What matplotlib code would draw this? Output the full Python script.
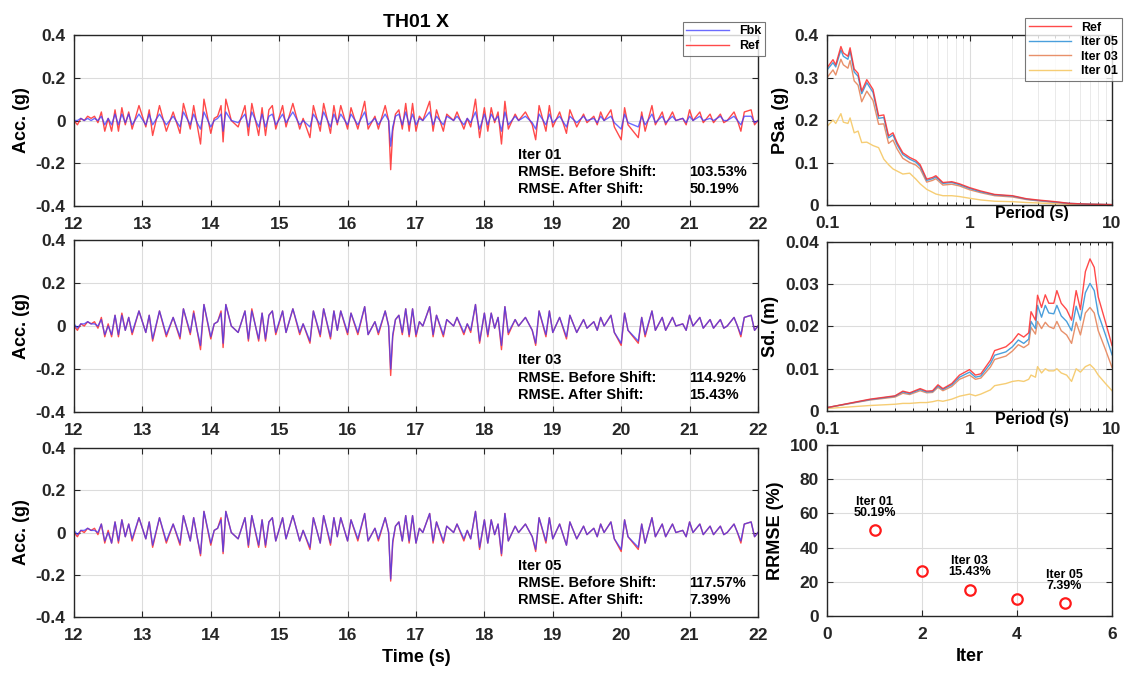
import numpy as np
import matplotlib
matplotlib.use("Agg")
import matplotlib.pyplot as plt

plt.rcParams['font.family'] = ['Liberation Sans', 'DejaVu Sans']
plt.rcParams['font.weight'] = 'bold'
plt.rcParams['axes.labelweight'] = 'bold'

# ---- time histories ----
t = [12.00, 12.05, 12.10, 12.15, 12.20, 12.25, 12.30, 12.35, 12.40, 12.45,
     12.50, 12.55, 12.60, 12.65, 12.70, 12.75, 12.80, 12.85, 12.95, 13.05,
     13.10, 13.15, 13.25, 13.35, 13.45, 13.55, 13.60, 13.70, 13.75, 13.80,
     13.85, 13.90, 14.00, 14.05, 14.10, 14.15, 14.18, 14.22, 14.30, 14.40,
     14.45, 14.50, 14.55, 14.60, 14.70, 14.75, 14.80, 14.85, 14.90, 14.95,
     15.05, 15.10, 15.20, 15.30, 15.35, 15.45, 15.50, 15.60, 15.65, 15.75,
     15.80, 15.85, 15.90, 16.00, 16.05, 16.15, 16.25, 16.30, 16.40, 16.45,
     16.55, 16.60, 16.63, 16.66, 16.70, 16.75, 16.80, 16.85, 16.90, 16.95,
     17.00, 17.05, 17.10, 17.20, 17.25, 17.30, 17.40, 17.45, 17.55, 17.60,
     17.70, 17.75, 17.80, 17.87, 17.93, 18.00, 18.05, 18.10, 18.15, 18.20,
     18.25, 18.30, 18.35, 18.45, 18.50, 18.60, 18.70, 18.75, 18.80, 18.90,
     18.95, 19.00, 19.10, 19.20, 19.25, 19.35, 19.45, 19.50, 19.60, 19.65,
     19.70, 19.75, 19.85, 19.90, 20.00, 20.05, 20.10, 20.25, 20.30, 20.35,
     20.45, 20.50, 20.60, 20.65, 20.75, 20.80, 20.90, 20.95, 21.00, 21.05,
     21.15, 21.20, 21.30, 21.35, 21.45, 21.50, 21.55, 21.65, 21.70, 21.75,
     21.80, 21.90, 21.95, 22.00]

ref = [0.00, -0.02, 0.01, 0.00, 0.02, 0.01, 0.02, -0.01, 0.04, -0.05,
       0.01, -0.05, 0.05, -0.05, 0.06, -0.02, 0.04, -0.04, 0.07, -0.03,
       0.05, -0.07, 0.07, -0.05, 0.04, -0.06, 0.08, -0.04, 0.07, -0.02,
       -0.11, 0.10, -0.06, 0.01, 0.02, 0.07, -0.10, 0.10, 0.00, -0.03,
       0.02, 0.07, -0.07, 0.08, -0.07, 0.06, -0.07, 0.05, 0.07, -0.04,
       0.07, -0.03, 0.08, -0.04, 0.01, -0.08, 0.07, -0.05, 0.08, -0.06,
       0.07, -0.02, 0.07, -0.04, 0.06, -0.04, 0.09, -0.04, 0.02, -0.04,
       0.07, 0.00, -0.23, -0.05, 0.03, 0.05, -0.04, 0.08, -0.05, 0.08,
       -0.05, 0.02, 0.00, 0.09, -0.05, 0.05, -0.05, 0.03, 0.00, 0.04,
       -0.04, 0.01, -0.03, 0.10, -0.08, 0.06, -0.05, 0.06, -0.01, 0.04,
       -0.11, 0.09, -0.04, 0.03, 0.00, 0.04, -0.02, -0.09, 0.07, -0.05,
       0.07, -0.03, 0.04, -0.06, 0.05, -0.03, 0.03, -0.01, 0.02, -0.02,
       0.04, 0.00, 0.05, -0.03, -0.09, 0.06, -0.02, -0.08, 0.04, -0.05,
       0.07, -0.02, 0.04, -0.02, 0.04, 0.00, 0.01, -0.02, 0.05, 0.00,
       0.04, -0.01, 0.03, -0.01, 0.03, -0.01, 0.00, 0.04, 0.00, -0.05,
       0.04, 0.05, -0.02, 0.00]

fbk_01 = [0.00, 0.00, 0.01, 0.00, 0.01, 0.00, 0.01, 0.00, 0.02, -0.02,
          0.01, -0.02, 0.03, -0.02, 0.03, -0.01, 0.03, -0.02, 0.03, -0.02,
          0.03, -0.02, 0.03, -0.02, 0.02, -0.03, 0.04, -0.02, 0.03, -0.01,
          -0.04, 0.04, -0.03, 0.00, 0.01, 0.03, -0.05, 0.04, 0.00, -0.01,
          0.01, 0.03, -0.03, 0.04, -0.03, 0.03, -0.03, 0.02, 0.03, -0.02,
          0.03, -0.01, 0.04, -0.02, 0.00, -0.03, 0.03, -0.02, 0.04, -0.03,
          0.03, -0.01, 0.03, -0.02, 0.03, -0.02, 0.04, -0.02, 0.01, -0.02,
          0.03, 0.00, -0.12, -0.03, 0.02, 0.03, -0.02, 0.04, -0.02, 0.03,
          -0.02, 0.01, 0.00, 0.04, -0.02, 0.02, -0.02, 0.02, 0.00, 0.02,
          -0.02, 0.01, -0.01, 0.04, -0.04, 0.03, -0.02, 0.03, 0.00, 0.02,
          -0.05, 0.04, -0.02, 0.02, 0.00, 0.02, -0.01, -0.04, 0.03, -0.02,
          0.03, -0.01, 0.02, -0.03, 0.02, -0.01, 0.02, 0.00, 0.01, -0.01,
          0.02, 0.00, 0.02, -0.01, -0.04, 0.03, -0.01, -0.03, 0.02, -0.02,
          0.03, -0.01, 0.02, -0.01, 0.02, 0.00, 0.01, -0.01, 0.02, 0.00,
          0.02, 0.00, 0.01, 0.00, 0.02, 0.00, 0.00, 0.02, 0.00, -0.02,
          0.02, 0.02, -0.01, 0.00]

fbk_03 = [0.01, -0.01, 0.01, 0.01, 0.02, 0.01, 0.01, 0.00, 0.03, -0.04,
          0.00, -0.04, 0.05, -0.04, 0.05, -0.02, 0.04, -0.03, 0.07, -0.03,
          0.05, -0.06, 0.07, -0.04, 0.04, -0.05, 0.08, -0.03, 0.06, -0.02,
          -0.09, 0.10, -0.05, 0.01, 0.02, 0.06, -0.08, 0.10, 0.00, -0.03,
          0.02, 0.07, -0.06, 0.07, -0.06, 0.06, -0.06, 0.05, 0.07, -0.03,
          0.07, -0.03, 0.08, -0.03, 0.01, -0.07, 0.07, -0.04, 0.08, -0.05,
          0.07, -0.02, 0.07, -0.03, 0.06, -0.03, 0.09, -0.04, 0.02, -0.03,
          0.07, 0.00, -0.20, -0.04, 0.03, 0.05, -0.03, 0.08, -0.04, 0.08,
          -0.04, 0.02, 0.00, 0.09, -0.04, 0.05, -0.04, 0.03, 0.00, 0.04,
          -0.03, 0.01, -0.02, 0.10, -0.07, 0.06, -0.04, 0.06, -0.01, 0.04,
          -0.09, 0.09, -0.03, 0.03, 0.00, 0.04, -0.02, -0.08, 0.07, -0.04,
          0.07, -0.03, 0.04, -0.05, 0.05, -0.03, 0.03, -0.01, 0.02, -0.02,
          0.04, 0.00, 0.05, -0.03, -0.08, 0.06, -0.02, -0.07, 0.04, -0.04,
          0.07, -0.02, 0.04, -0.02, 0.04, 0.00, 0.01, -0.02, 0.05, 0.00,
          0.04, -0.01, 0.03, -0.01, 0.03, -0.01, 0.00, 0.04, 0.00, -0.04,
          0.04, 0.05, -0.02, 0.00]

fbk_05 = [0.01, -0.01, 0.01, 0.01, 0.02, 0.01, 0.01, 0.00, 0.04, -0.04,
          0.00, -0.05, 0.05, -0.04, 0.06, -0.02, 0.04, -0.03, 0.07, -0.03,
          0.05, -0.06, 0.07, -0.04, 0.04, -0.05, 0.08, -0.04, 0.07, -0.02,
          -0.10, 0.10, -0.05, 0.01, 0.02, 0.06, -0.09, 0.10, 0.00, -0.03,
          0.02, 0.07, -0.06, 0.08, -0.06, 0.06, -0.06, 0.05, 0.07, -0.04,
          0.07, -0.03, 0.08, -0.04, 0.01, -0.07, 0.07, -0.05, 0.08, -0.05,
          0.07, -0.02, 0.07, -0.04, 0.06, -0.03, 0.09, -0.04, 0.02, -0.03,
          0.07, 0.00, -0.22, -0.04, 0.03, 0.05, -0.04, 0.08, -0.04, 0.08,
          -0.05, 0.02, 0.00, 0.09, -0.04, 0.05, -0.04, 0.03, 0.00, 0.04,
          -0.03, 0.01, -0.03, 0.10, -0.07, 0.06, -0.05, 0.06, -0.01, 0.04,
          -0.10, 0.09, -0.04, 0.03, 0.00, 0.04, -0.02, -0.08, 0.07, -0.04,
          0.07, -0.03, 0.04, -0.06, 0.05, -0.03, 0.03, -0.01, 0.02, -0.02,
          0.04, 0.00, 0.05, -0.03, -0.08, 0.06, -0.02, -0.07, 0.04, -0.05,
          0.07, -0.02, 0.04, -0.02, 0.04, 0.00, 0.01, -0.02, 0.05, 0.00,
          0.04, -0.01, 0.03, -0.01, 0.03, -0.01, 0.00, 0.04, 0.00, -0.04,
          0.04, 0.05, -0.02, 0.00]

iter_names = ["Iter 01", "Iter 03", "Iter 05"]
rmse_before = ["103.53%", "114.92%", "117.57%"]
rmse_after = ["50.19%", "15.43%", "7.39%"]

# ---- response spectra ----
T_psa = [0.10, 0.11, 0.115, 0.125, 0.13, 0.14, 0.145, 0.155, 0.165, 0.175,
         0.19, 0.21, 0.23, 0.25, 0.27, 0.29, 0.31, 0.34, 0.38, 0.42,
         0.45, 0.50, 0.55, 0.58, 0.65, 0.75, 0.85, 1.0, 1.2, 1.5,
         2.0, 2.5, 3.0, 4.0, 5.0, 7.0, 10.0]
psa_ref = [0.323, 0.342, 0.330, 0.373, 0.358, 0.350, 0.370, 0.320, 0.310, 0.268,
           0.295, 0.272, 0.210, 0.212, 0.163, 0.170, 0.147, 0.123, 0.112, 0.105,
           0.095, 0.061, 0.065, 0.069, 0.053, 0.055, 0.050, 0.041, 0.033, 0.025,
           0.022, 0.015, 0.012, 0.008, 0.004, 0.002, 0.001]
psa_05 = [0.318, 0.335, 0.325, 0.365, 0.350, 0.343, 0.362, 0.313, 0.303, 0.262,
          0.288, 0.265, 0.204, 0.206, 0.158, 0.165, 0.142, 0.119, 0.108, 0.101,
          0.091, 0.058, 0.062, 0.066, 0.051, 0.053, 0.048, 0.039, 0.031, 0.024,
          0.021, 0.014, 0.011, 0.007, 0.004, 0.002, 0.001]
psa_03 = [0.300, 0.318, 0.306, 0.343, 0.330, 0.322, 0.340, 0.292, 0.282, 0.243,
          0.268, 0.246, 0.190, 0.191, 0.145, 0.153, 0.132, 0.110, 0.100, 0.094,
          0.085, 0.054, 0.058, 0.062, 0.047, 0.049, 0.045, 0.036, 0.029, 0.022,
          0.019, 0.013, 0.010, 0.006, 0.003, 0.002, 0.001]
psa_01 = [0.185, 0.200, 0.192, 0.215, 0.195, 0.192, 0.205, 0.170, 0.174, 0.147,
          0.148, 0.140, 0.135, 0.108, 0.095, 0.085, 0.080, 0.073, 0.075, 0.061,
          0.050, 0.037, 0.030, 0.026, 0.022, 0.022, 0.020, 0.016, 0.012, 0.009,
          0.008, 0.006, 0.005, 0.003, 0.002, 0.001, 0.0005]

T_sd = [0.10, 0.20, 0.30, 0.34, 0.38, 0.45, 0.50, 0.55, 0.60, 0.65,
        0.75, 0.85, 1.0, 1.1, 1.2, 1.4, 1.5, 1.8, 2.0, 2.2,
        2.4, 2.6, 2.7, 2.9, 3.0, 3.2, 3.4, 3.6, 3.9, 4.1,
        4.4, 4.8, 5.2, 5.6, 6.0, 6.5, 7.0, 7.5, 8.0, 9.0, 10.0]
sd_ref = [0.0008, 0.0028, 0.0036, 0.0047, 0.0043, 0.0053, 0.0047, 0.0048, 0.0062, 0.0053,
          0.0065, 0.0085, 0.0098, 0.0085, 0.0088, 0.0120, 0.0143, 0.0152, 0.0165, 0.0183,
          0.0175, 0.0185, 0.0235, 0.0215, 0.0274, 0.0245, 0.0275, 0.0255, 0.0255, 0.0285,
          0.0255, 0.0240, 0.0215, 0.0285, 0.0240, 0.0330, 0.0360, 0.0340, 0.0270, 0.0210, 0.0155]
sd_05 = [0.0008, 0.0027, 0.0035, 0.0045, 0.0041, 0.0051, 0.0045, 0.0046, 0.0059, 0.0051,
         0.0062, 0.0080, 0.0092, 0.0080, 0.0083, 0.0112, 0.0132, 0.0140, 0.0152, 0.0168,
         0.0160, 0.0170, 0.0212, 0.0195, 0.0250, 0.0222, 0.0250, 0.0232, 0.0230, 0.0250,
         0.0225, 0.0212, 0.0190, 0.0248, 0.0215, 0.0280, 0.0302, 0.0285, 0.0230, 0.0180, 0.0133]
sd_03 = [0.0008, 0.0026, 0.0033, 0.0042, 0.0039, 0.0048, 0.0043, 0.0044, 0.0056, 0.0048,
         0.0058, 0.0075, 0.0085, 0.0075, 0.0078, 0.0104, 0.0122, 0.0130, 0.0142, 0.0157,
         0.0150, 0.0158, 0.0198, 0.0182, 0.0212, 0.0195, 0.0210, 0.0200, 0.0195, 0.0212,
         0.0190, 0.0180, 0.0160, 0.0210, 0.0180, 0.0232, 0.0245, 0.0232, 0.0190, 0.0145, 0.0103]
sd_01 = [0.0006, 0.0013, 0.0016, 0.0018, 0.0018, 0.0020, 0.0020, 0.0022, 0.0025, 0.0023,
         0.0028, 0.0035, 0.0040, 0.0036, 0.0040, 0.0050, 0.0060, 0.0065, 0.0070, 0.0072,
         0.0070, 0.0075, 0.0085, 0.0080, 0.0105, 0.0090, 0.0100, 0.0095, 0.0095, 0.0100,
         0.0090, 0.0085, 0.0070, 0.0100, 0.0092, 0.0105, 0.0110, 0.0100, 0.0085, 0.0065, 0.0048]

# ---- RRMSE per iteration ----
iters = [1, 2, 3, 4, 5]
rrmse = [50.19, 26.3, 15.43, 9.7, 7.39]
rrmse_labels = {1: "Iter 01\n50.19%", 3: "Iter 03\n15.43%", 5: "Iter 05\n7.39%"}

c_ref = "#ff2a2a"
c_fbk = "#3a3aff"
c_05 = "#4a9fdc"
c_03 = "#e8906a"
c_01 = "#f6cd74"
spine_c = "#262626"
tick_fs = 12.5


def style(ax):
    for s in ax.spines.values():
        s.set_color(spine_c)
        s.set_linewidth(1.0)
    ax.tick_params(direction="in", top=True, right=True, labelsize=tick_fs,
                   colors=spine_c, width=0.8, length=4)
    ax.tick_params(axis="x", pad=8)
    ax.tick_params(axis="y", pad=6)
    ax.tick_params(which="minor", direction="in", top=True, right=True,
                   length=2, width=0.6)
    ax.grid(True, color="#dcdcdc", linewidth=0.8)
    ax.set_axisbelow(True)
    for lab in ax.get_xticklabels() + ax.get_yticklabels():
        lab.set_fontweight("bold")


def bold_legend(leg):
    leg.get_frame().set_edgecolor("#555555")
    leg.get_frame().set_linewidth(0.8)
    for txt in leg.get_texts():
        txt.set_fontweight("bold")


fig = plt.figure(figsize=(11.33, 6.79), dpi=100)

left_rects = [[0.0653, 0.6966, 0.6037, 0.2518],
              [0.0653, 0.3932, 0.6037, 0.2533],
              [0.0653, 0.0913, 0.6037, 0.2489]]
fbk_list = [fbk_01, fbk_03, fbk_05]

for i, rect in enumerate(left_rects):
    ax = fig.add_axes(rect)
    ax.plot(t, ref, color=c_ref, lw=1.0, alpha=0.85, label="Ref")
    ax.plot(t, fbk_list[i], color=c_fbk, lw=1.0, alpha=0.75, label="Fbk")
    ax.set_xlim(12, 22)
    ax.set_ylim(-0.4, 0.4)
    ax.set_xticks(np.arange(12, 23, 1))
    ax.set_yticks([-0.4, -0.2, 0, 0.2, 0.4])
    ax.set_yticklabels(["-0.4", "-0.2", "0", "0.2", "0.4"])
    ax.set_ylabel("Acc. (g)", fontsize=13, fontweight="bold", labelpad=4)
    style(ax)
    ax.text(0.649, 0.30, iter_names[i], transform=ax.transAxes, fontsize=10.5,
            fontweight="bold", va="center")
    ax.text(0.649, 0.20, "RMSE. Before Shift:", transform=ax.transAxes,
            fontsize=10.5, fontweight="bold", va="center")
    ax.text(0.90, 0.20, rmse_before[i], transform=ax.transAxes, fontsize=10.5,
            fontweight="bold", va="center")
    ax.text(0.649, 0.10, "RMSE. After Shift:", transform=ax.transAxes,
            fontsize=10.5, fontweight="bold", va="center")
    ax.text(0.90, 0.10, rmse_after[i], transform=ax.transAxes, fontsize=10.5,
            fontweight="bold", va="center")
    if i == 0:
        ax.set_title("TH01 X", fontsize=14, fontweight="bold", pad=6)
        h, l = ax.get_legend_handles_labels()
        leg = ax.legend(h[::-1], l[::-1], loc="upper right",
                        bbox_to_anchor=(0.675, 0.968), bbox_transform=fig.transFigure,
                        borderaxespad=0, fontsize=9, frameon=True, fancybox=False,
                        handlelength=3.4, borderpad=0.3, labelspacing=0.2)
        bold_legend(leg)
    if i == 2:
        ax.set_xlabel("Time (s)", fontsize=13, fontweight="bold", labelpad=4)

# PSa
ax1 = fig.add_axes([0.730, 0.698, 0.2515, 0.2504])
ax1.semilogx(T_psa, psa_01, color=c_01, lw=1.0, label="Iter 01")
ax1.semilogx(T_psa, psa_03, color=c_03, lw=1.0, label="Iter 03")
ax1.semilogx(T_psa, psa_05, color=c_05, lw=1.0, label="Iter 05")
ax1.semilogx(T_psa, psa_ref, color=c_ref, lw=1.0, alpha=0.85, label="Ref")
ax1.set_xlim(0.1, 10)
ax1.set_ylim(0, 0.4)
ax1.set_yticks([0, 0.1, 0.2, 0.3, 0.4])
ax1.set_yticklabels(["0", "0.1", "0.2", "0.3", "0.4"])
ax1.set_xticks([0.1, 1, 10])
ax1.set_xticklabels(["0.1", "1", "10"])
ax1.set_ylabel("PSa. (g)", fontsize=13, fontweight="bold", labelpad=4)
style(ax1)
ax1.grid(True, which="minor", axis="x", color="#e6e6e6", linewidth=0.6)
h, l = ax1.get_legend_handles_labels()
leg = ax1.legend(h[::-1], l[::-1], loc="upper right",
                 bbox_to_anchor=(0.990, 0.9735), bbox_transform=fig.transFigure,
                 borderaxespad=0, fontsize=9, frameon=True, fancybox=False,
                 handlelength=3.4, borderpad=0.3, labelspacing=0.2)
bold_legend(leg)

# Sd
ax2 = fig.add_axes([0.730, 0.3947, 0.2515, 0.2489])
ax2.semilogx(T_sd, sd_01, color=c_01, lw=1.0)
ax2.semilogx(T_sd, sd_03, color=c_03, lw=1.0)
ax2.semilogx(T_sd, sd_05, color=c_05, lw=1.0)
ax2.semilogx(T_sd, sd_ref, color=c_ref, lw=1.0, alpha=0.85)
ax2.set_xlim(0.1, 10)
ax2.set_ylim(0, 0.04)
ax2.set_yticks([0, 0.01, 0.02, 0.03, 0.04])
ax2.set_yticklabels(["0", "0.01", "0.02", "0.03", "0.04"])
ax2.set_xticks([0.1, 1, 10])
ax2.set_xticklabels(["0.1", "1", "10"])
ax2.set_ylabel("Sd. (m)", fontsize=13, fontweight="bold", labelpad=4)
style(ax2)
ax2.grid(True, which="minor", axis="x", color="#e6e6e6", linewidth=0.6)

for ax in (ax1, ax2):
    ax.text(0.72, -0.05, "Period (s)", transform=ax.transAxes, ha="center",
            va="center", fontsize=11.5, fontweight="bold")

# RRMSE
ax3 = fig.add_axes([0.730, 0.0928, 0.2515, 0.2518])
ax3.plot(iters, rrmse, "o", mfc="none", mec="#ff1a1a", mew=1.6, ms=7.5)
for x, y in zip(iters, rrmse):
    if x in rrmse_labels:
        ax3.annotate(rrmse_labels[x], (x, y), xytext=(0, 8),
                     textcoords="offset points", ha="center", va="bottom",
                     fontsize=9, fontweight="bold", linespacing=0.95)
ax3.set_xlim(0, 6)
ax3.set_ylim(0, 100)
ax3.set_xticks([0, 2, 4, 6])
ax3.set_yticks([0, 20, 40, 60, 80, 100])
ax3.set_xlabel("Iter", fontsize=13, fontweight="bold", labelpad=4)
ax3.set_ylabel("RRMSE (%)", fontsize=13, fontweight="bold", labelpad=4)
style(ax3)

fig.savefig("out.png", dpi=100)
